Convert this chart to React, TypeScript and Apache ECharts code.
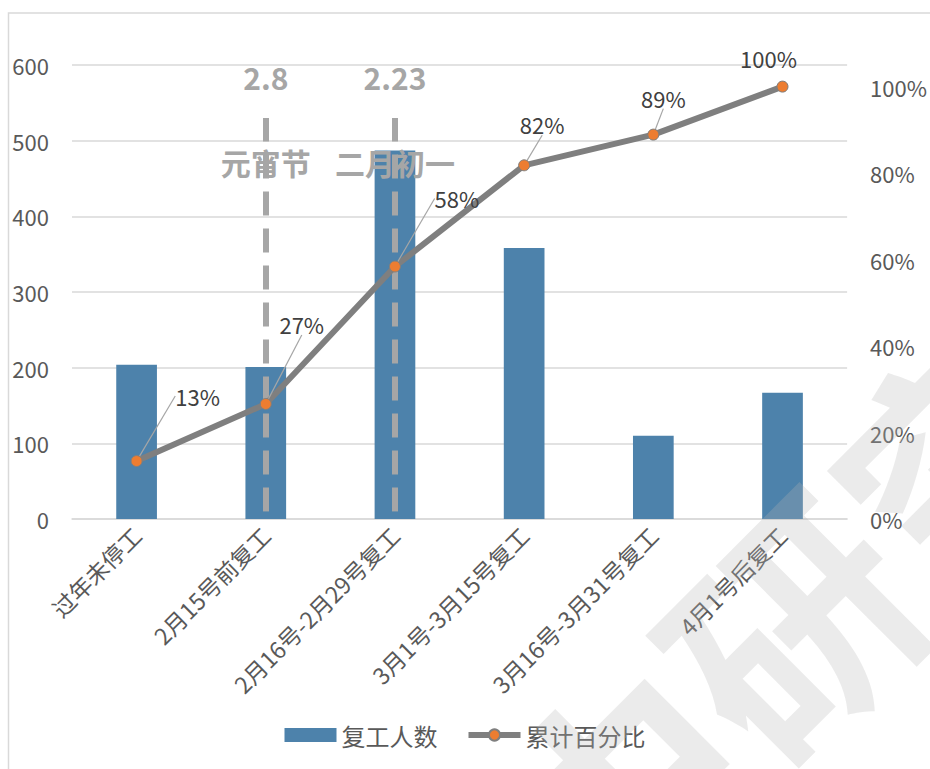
import React, { useEffect, useRef } from "react";
import * as echarts from "echarts";

// ---- data ----
const categories = [
  "过年未停工",
  "2月15号前复工",
  "2月16号-2月29号复工",
  "3月1号-3月15号复工",
  "3月16号-3月31号复工",
  "4月1号后复工",
];
const workers = [204, 201, 487, 358, 110, 167];
const cumulative = [0.134, 0.266, 0.584, 0.818, 0.889, 1.0];
const seriesNames = ["复工人数", "累计百分比"];

const leftMin = 0;
const leftMax = 600;
const leftInterval = 100;
const rightMin = 0;
const rightMax = 1.05;
const rightInterval = 0.2;

// event annotations
const eventCategories = [categories[1], categories[2]];
const eventDates = ["2.8", "2.23"];
const eventNames = ["元宵节", "二月初一"];
const eventLineFrom = 10;
const eventLineTo = 530;
const eventDateAt = 584;
const eventNameAt = 472;

// label offsets for the cumulative line (px)
const labelOffsets = [
  [61, -65],
  [36, -80],
  [62, -68],
  [18, -41],
  [10, -37],
  [-14, -29],
];

const watermarkText = "融中研究";

const FONT = "'Noto Sans CJK SC', 'Noto Sans', sans-serif";

export default function App() {
  const ref = useRef<HTMLDivElement>(null);

  useEffect(() => {
    document.body.style.margin = "0";
    const chart = echarts.init(ref.current as HTMLDivElement, null, {
      renderer: "svg",
    });

    const markLineData = eventCategories.map((c) => [
      { coord: [c, eventLineFrom] },
      { coord: [c, eventLineTo] },
    ]);
    const markPointData: any[] = [];
    eventCategories.forEach((c, i) => {
      markPointData.push({
        coord: [c, eventDateAt],
        label: { formatter: eventDates[i] },
      });
      markPointData.push({
        coord: [c, eventNameAt],
        label: { formatter: eventNames[i] },
      });
    });

    const option: any = {
      animation: false,
      textStyle: { fontFamily: FONT },
      grid: { left: 72, right: 78, top: 65, bottom: 250, containLabel: false },
      legend: {
        data: [
          { name: seriesNames[0], icon: "rect" },
          { name: seriesNames[1] },
        ],
        left: "center",
        top: 723,
        itemWidth: 52,
        itemHeight: 14,
        itemGap: 28,
        padding: 0,
        lineStyle: { width: 6 },
        textStyle: { fontSize: 24, color: "#595959", fontFamily: FONT },
      },
      xAxis: {
        type: "category",
        data: categories,
        axisLine: { show: true, lineStyle: { color: "#D9D9D9", width: 1.5 } },
        axisTick: { show: false },
        axisLabel: {
          interval: 0,
          rotate: 45,
          margin: 12,
          fontSize: 23,
          color: "#595959",
          fontFamily: FONT,
        },
      },
      yAxis: [
        {
          type: "value",
          min: leftMin,
          max: leftMax,
          interval: leftInterval,
          axisLine: { show: false },
          axisTick: { show: false },
          splitLine: { show: true, lineStyle: { color: "#D9D9D9", width: 1.5 } },
          axisLabel: { fontSize: 22, color: "#595959", margin: 23, fontFamily: FONT },
        },
        {
          type: "value",
          min: rightMin,
          max: rightMax,
          interval: rightInterval,
          axisLine: { show: false },
          axisTick: { show: false },
          splitLine: { show: false },
          axisLabel: {
            fontSize: 22,
            color: "#595959",
            margin: 23,
            showMaxLabel: false,
            fontFamily: FONT,
            formatter: (v: number) => Math.round(v * 100) + "%",
          },
        },
      ],
      series: [
        {
          name: seriesNames[0],
          type: "bar",
          data: workers,
          barWidth: "31.5%",
          itemStyle: { color: "#4D82AB" },
          markLine: {
            silent: true,
            symbol: "none",
            animation: false,
            label: { show: false },
            lineStyle: {
              color: "#A6A6A6",
              width: 6,
              type: [24, 13],
            },
            data: markLineData,
          },
          markPoint: {
            silent: true,
            symbol: "rect",
            symbolSize: 1,
            itemStyle: { color: "rgba(0,0,0,0)" },
            label: {
              show: true,
              position: "inside",
              fontSize: 30,
              fontWeight: "bold",
              color: "#A6A6A6",
              fontFamily: FONT,
            },
            data: markPointData,
          },
        },
        {
          name: seriesNames[1],
          type: "line",
          yAxisIndex: 1,
          z: 5,
          data: cumulative.map((v, i) =>
            i === cumulative.length - 1
              ? { value: v, labelLine: { show: false } }
              : v
          ),
          symbol: "circle",
          symbolSize: 11,
          lineStyle: { color: "#7F7F7F", width: 6 },
          itemStyle: { color: "#ED7D31", borderColor: "#7F7F7F", borderWidth: 1 },
          label: {
            show: true,
            position: "inside",
            fontSize: 22,
            color: "#404040",
            fontFamily: FONT,
            formatter: (p: any) => Math.round(p.value * 100) + "%",
          },
          labelLine: {
            show: true,
            lineStyle: { color: "#A6A6A6", width: 1.2 },
          },
          labelLayout: (params: any) => {
            const o = labelOffsets[params.dataIndex] || [0, 0];
            return { dx: o[0], dy: o[1] };
          },
        },
      ],
      graphic: [
        {
          type: "rect",
          z: 0,
          silent: true,
          shape: { x: 8.5, y: 13, width: 2000, height: 2000 },
          style: { fill: "none", stroke: "#D9D9D9", lineWidth: 1.5 },
        },
        {
          type: "text",
          z: 100,
          silent: true,
          x: 700,
          y: 705,
          rotation: Math.PI / 4,
          style: {
            text: watermarkText,
            fontSize: 240,
            fontWeight: "bold",
            fontFamily: FONT,
            fill: "rgba(180,180,180,0.27)",
            align: "center",
            verticalAlign: "middle",
          },
        },
      ],
    };

    chart.setOption(option);
    return () => chart.dispose();
  }, []);

  return <div ref={ref} style={{ width: 930, height: 769 }} />;
}
